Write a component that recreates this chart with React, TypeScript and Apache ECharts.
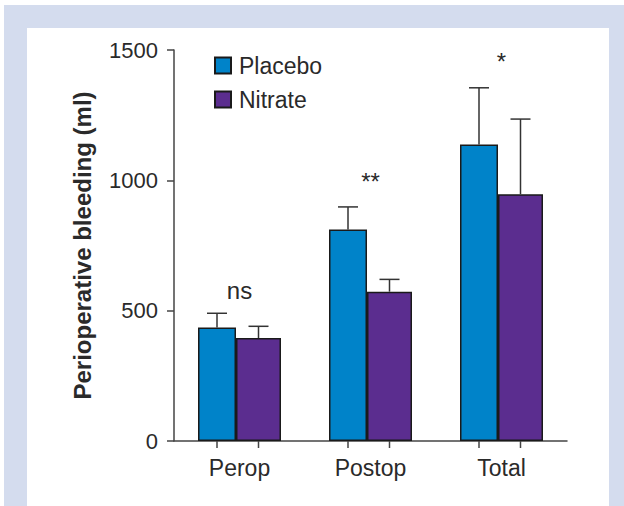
import React, { useEffect, useRef } from "react";
import * as echarts from "echarts";

const categories = ["Perop", "Postop", "Total"];
const placeboMean = [435, 811, 1137];
const placeboSD = [55, 87, 218];
const nitrateMean = [395, 573, 947];
const nitrateSD = [45, 47, 288];
const annotations = ["ns", "**", "*"];
const annotationY = [579, 994, 1456];
const yTicks = { min: 0, max: 1500, interval: 500 };

const FONT = "'Liberation Sans', Arial, Helvetica, sans-serif";
const TEXT = "#2a2a2a";
const AXIS = "#444";
const W_P = 38;
const W_N = 45;
const OFF_P = -(W_P + W_N) / 2 + W_P / 2;
const OFF_N = -(W_P + W_N) / 2 + W_P + W_N / 2;

function errorRender(offset: number) {
  return (params: any, api: any) => {
    const ci = api.value(0);
    const mean = api.value(1);
    const sd = api.value(2);
    const base = api.coord([ci, 0]);
    const top = api.coord([ci, mean]);
    const up = api.coord([ci, mean + sd]);
    const x = base[0] + offset;
    const st = { stroke: "#333", lineWidth: 1.5 };
    return {
      type: "group",
      children: [
        { type: "line", shape: { x1: x, y1: top[1], x2: x, y2: up[1] }, style: st },
        { type: "line", shape: { x1: x - 10, y1: up[1], x2: x + 10, y2: up[1] }, style: st },
        { type: "line", shape: { x1: x, y1: base[1], x2: x, y2: base[1] + 7 }, style: { stroke: AXIS, lineWidth: 1.5 } },
      ],
    };
  };
}

export default function App() {
  const ref = useRef<HTMLDivElement>(null);
  useEffect(() => {
    if (!ref.current) return;
    const chart = echarts.init(ref.current, null, { renderer: "svg" });
    chart.setOption({
      animation: false,
      graphic: [
        { type: "rect", z: -10, silent: true, shape: { x: 4, y: 5, width: 620, height: 501 }, style: { fill: "#d4dcee" } },
        { type: "rect", z: -9, silent: true, shape: { x: 27, y: 28, width: 582, height: 478 }, style: { fill: "#ffffff" } },
      ],
      grid: { left: 174, right: 57, top: 50, bottom: 65, containLabel: false },
      legend: {
        data: ["Placebo", "Nitrate"],
        orient: "vertical",
        left: 214,
        top: 54,
        padding: 0,
        icon: "rect",
        itemWidth: 16,
        itemHeight: 16,
        itemGap: 11,
        textStyle: { fontFamily: FONT, fontSize: 23, color: TEXT, padding: [0, 0, 0, 3] },
      },
      xAxis: {
        type: "category",
        data: categories,
        axisLine: { lineStyle: { color: AXIS, width: 1.5 } },
        axisTick: { show: false },
        axisLabel: { fontFamily: FONT, fontSize: 23, color: TEXT, margin: 15 },
      },
      yAxis: {
        type: "value",
        min: yTicks.min,
        max: yTicks.max,
        interval: yTicks.interval,
        name: "Perioperative bleeding (ml)",
        nameLocation: "middle",
        nameGap: 80,
        nameTextStyle: { fontFamily: FONT, fontSize: 24, fontWeight: "bold", color: TEXT },
        axisLine: { show: true, lineStyle: { color: AXIS, width: 1.5 } },
        axisTick: { show: true, length: 7, lineStyle: { color: AXIS, width: 1.5 } },
        axisLabel: { fontFamily: FONT, fontSize: 22, color: TEXT, margin: 16, formatter: (v: number) => String(v) },
        splitLine: { show: false },
      },
      series: [
        {
          name: "Placebo",
          type: "bar",
          data: placeboMean,
          barWidth: W_P,
          barGap: "0%",
          itemStyle: { color: "#0083c9", borderColor: "#1a1a1a", borderWidth: 1.5 },
          z: 3,
        },
        {
          name: "Nitrate",
          type: "bar",
          data: nitrateMean,
          barWidth: W_N,
          barGap: "0%",
          itemStyle: { color: "#5b2d8f", borderColor: "#1a1a1a", borderWidth: 1.5 },
          z: 3,
        },
        {
          name: "errP",
          type: "custom",
          clip: false,
          z: 2,
          renderItem: errorRender(OFF_P),
          data: placeboMean.map((m, i) => [i, m, placeboSD[i]]),
        },
        {
          name: "errN",
          type: "custom",
          clip: false,
          z: 2,
          renderItem: errorRender(OFF_N),
          data: nitrateMean.map((m, i) => [i, m, nitrateSD[i]]),
        },
        {
          name: "annot",
          type: "custom",
          clip: false,
          renderItem: (params: any, api: any) => {
            const p = api.coord([api.value(0), api.value(1)]);
            return {
              type: "text",
              style: {
                text: annotations[params.dataIndex],
                x: p[0],
                y: p[1],
                align: "center",
                verticalAlign: "middle",
                fontFamily: FONT,
                fontSize: 24,
                fill: TEXT,
              },
            };
          },
          data: annotationY.map((v, i) => [i, v]),
        },
      ],
    });
    return () => chart.dispose();
  }, []);
  return <div ref={ref} style={{ position: "absolute", left: 0, top: 0, width: 624, height: 506 }} />;
}
